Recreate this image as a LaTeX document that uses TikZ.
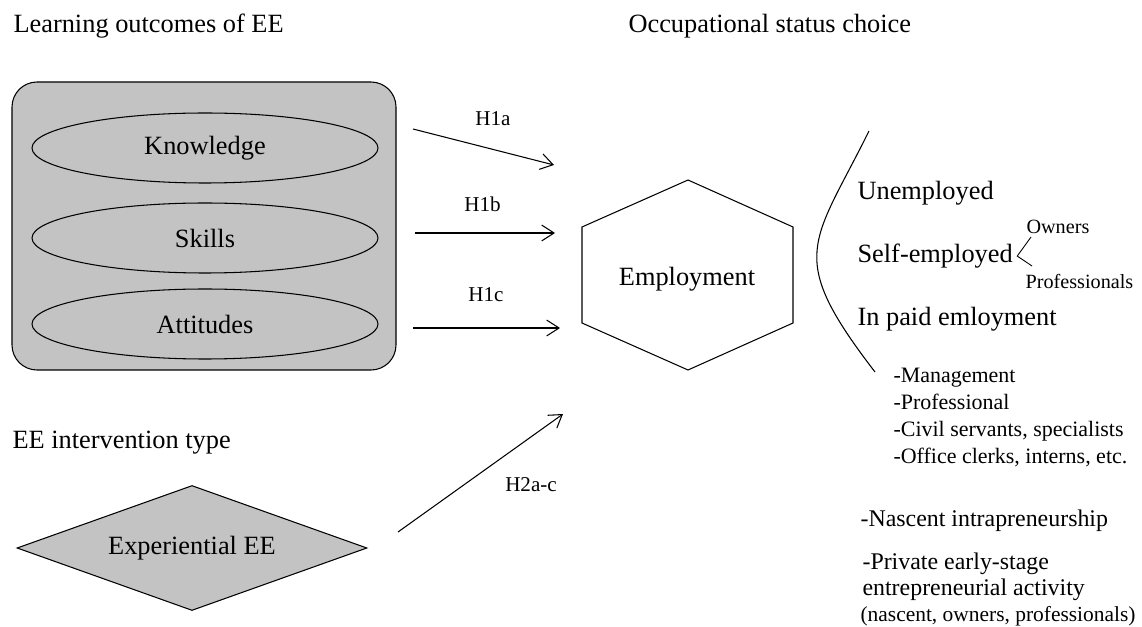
\documentclass[tikz,border=0pt]{standalone}
\usepackage{fontspec}
\setmainfont{Liberation Serif}
\usetikzlibrary{shapes.geometric,positioning,arrows.meta}
\definecolor{boxgray}{RGB}{195,195,195}

\tikzset{
    txt/.style={font=\fontsize{15}{18}\selectfont, inner sep=0pt},
    hyp/.style={font=\fontsize{12}{14}\selectfont, inner sep=0pt},
    branch/.style={font=\fontsize{11.5}{14}\selectfont, inner sep=0pt},
    outcome/.style={ellipse, draw, minimum width=6.92cm, minimum height=1.4cm, inner sep=0pt, font=\fontsize{15}{18}\selectfont}
}

\begin{document}
\begin{tikzpicture}[line width=0.6pt, >={Straight Barb[length=7pt,width=9pt]}]
        \useasboundingbox (0,0) rectangle (22.84,-12.54);

        % --- Learning outcomes ---
        \node[txt, anchor=base west] (lotitle) at (0.26,-0.66) {Learning outcomes of EE};
        \node[draw, fill=boxgray, rounded corners=0.5cm, minimum width=7.68cm, minimum height=5.76cm] (lobox) at (4.08,-4.52) {};
        \node[outcome] (know) at (4.1,-2.96) {Knowledge};
        \node[outcome] (skills) at (4.1,-4.76) {Skills};
        \node[outcome] (att) at (4.1,-6.48) {Attitudes};
        % ---

        % --- Intervention type ---
        \node[txt, anchor=base west] (ivtitle) at (0.24,-8.96) {EE intervention type};
        \node[diamond, draw, fill=boxgray, aspect=2.8, minimum width=7cm, minimum height=2.5cm, inner sep=0pt, font=\fontsize{15}{18}\selectfont] (exp) at (3.84,-10.96) {Experiential EE};
        % ---

        % --- Employment hexagon ---
        \node[txt, anchor=base west] (octitle) at (12.56,-0.66) {Occupational status choice};
        \draw (13.76,-3.6) -- (15.86,-4.54) -- (15.86,-6.46) -- (13.76,-7.4) -- (11.64,-6.46) -- (11.64,-4.54) -- cycle;
        \node[txt] (emp) at (13.74,-5.58) {Employment};
        % ---

        % --- Hypotheses arrows ---
        \coordinate (h1aS) at (8.26,-2.58);
        \coordinate (h1aE) at (11.08,-3.3);
        \coordinate (h1bS) at (8.3,-4.66);
        \coordinate (h1bE) at (11.1,-4.66);
        \coordinate (h1cS) at (8.26,-6.56);
        \coordinate (h1cE) at (11.2,-6.56);
        \coordinate (h2S) at (7.96,-10.64);
        \coordinate (h2E) at (11.26,-8.28);
        \draw[->] (h1aS) -- (h1aE);
        \draw[->] (h1bS) -- (h1bE);
        \draw[->] (h1cS) -- (h1cE);
        \draw[->] (h2S) -- (h2E);
        \node[hyp, anchor=base] (h1a) at (9.86,-2.52) {H1a};
        \node[hyp, anchor=base] (h1b) at (9.65,-4.23) {H1b};
        \node[hyp, anchor=base] (h1c) at (9.72,-6.03) {H1c};
        \node[hyp, anchor=base] (h2) at (10.62,-9.83) {H2a-c};
        % ---

        % --- Status choices ---
        \draw (17.38,-2.62) .. controls (16.25,-4.9) and (15.7,-5.1) .. (17.5,-7.44);
        \node[txt, anchor=base west] (unemp) at (17.14,-4.0) {Unemployed};
        \node[txt, anchor=base west] (selfemp) at (17.14,-5.25) {Self-employed};
        \node[txt, anchor=base west] (paid) at (17.14,-6.51) {In paid emloyment};
        \node[branch, anchor=base west] (owners) at (20.52,-4.67) {Owners};
        \node[branch, anchor=base west] (profs) at (20.5,-5.77) {Professionals};
        \coordinate (forkO) at (20.62,-4.74);
        \coordinate (forkP) at (20.64,-5.32);
        \draw[line width=0.5pt] (forkO) -- ([xshift=0.08cm]selfemp.east) -- (forkP);
        \node[anchor=north west, inner sep=0pt, align=left, font=\fontsize{12.5}{15.3}\selectfont] (paidlist) at (17.86,-7.36)
            {-Management\\-Professional\\-Civil servants, specialists\\-Office clerks, interns, etc.};
        \node[anchor=base west, inner sep=0pt, font=\fontsize{13.6}{16}\selectfont] (nascent) at (17.2,-10.53) {-Nascent intrapreneurship};
        \node[anchor=north west, inner sep=0pt, align=left, font=\fontsize{13.6}{15.2}\selectfont] (private) at (17.24,-11.04)
            {-Private early-stage\\entrepreneurial activity};
        \node[anchor=base west, inner sep=0pt, font=\fontsize{12.2}{14}\selectfont] (privnote) at (17.2,-12.43) {(nascent, owners, professionals)};
        % ---
\end{tikzpicture}
\end{document}
